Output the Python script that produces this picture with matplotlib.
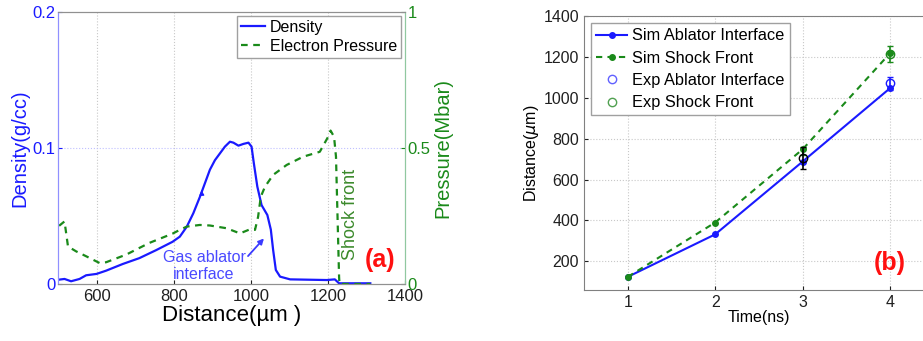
import matplotlib.pyplot as plt
import matplotlib as mpl
from matplotlib.lines import Line2D

mpl.rcParams['font.family'] = ['Liberation Sans', 'DejaVu Sans']

BLUE = '#1a1aff'
GREEN = '#1a8a1a'
RED = '#ff1010'
GRID = '#c8c8c8'

# panel (a): profiles along distance (um)
dens_x = [503, 517, 534, 556, 573, 600, 625, 668, 711, 754, 797, 816, 834, 851,
          868, 881, 894, 907, 920, 933, 946, 955, 968, 981, 994, 1002, 1008,
          1017, 1028, 1043, 1052, 1058, 1065, 1076, 1102, 1197, 1218, 1229, 1310]
dens_y = [0.0032, 0.0037, 0.0020, 0.0037, 0.0064, 0.0074, 0.0098, 0.0147, 0.019,
          0.0248, 0.031, 0.0348, 0.0421, 0.052, 0.064, 0.074, 0.084, 0.091,
          0.096, 0.101, 0.1046, 0.1039, 0.1017, 0.103, 0.1039, 0.101, 0.0887,
          0.0716, 0.058, 0.0507, 0.040, 0.025, 0.0103, 0.0054, 0.0034, 0.0029,
          0.0034, 0.0005, 0.0005]

pres_x = [503, 517, 526, 547, 573, 608, 625, 677, 737, 797, 816, 834, 868, 894,
          937, 972, 998, 1011, 1019, 1026, 1037, 1058, 1093, 1136, 1179, 1201,
          1207, 1216, 1221, 1229, 1230, 1310]
pres_y = [0.214, 0.230, 0.138, 0.120, 0.102, 0.077, 0.080, 0.108, 0.151, 0.185,
          0.199, 0.211, 0.217, 0.215, 0.205, 0.186, 0.201, 0.199, 0.247, 0.321,
          0.358, 0.401, 0.4375, 0.468, 0.486, 0.542, 0.564, 0.541, 0.468, 0.027,
          0.0, 0.0]

# panel (b): positions vs time
t_sim = [1, 2, 3, 4]
sim_ablator = [124, 332, 688, 1047]
sim_shock = [124, 390, 748, 1218]

t_exp_abl = [4]
exp_ablator = [1071]
exp_ablator_err = [33]
t_exp_shock = [4]
exp_shock = [1214]
exp_shock_err = [40]
t_exp_mid = [3]
exp_mid = [705]
exp_mid_err = [52]
exp_mid_shock = [738]
exp_mid_shock_err = [18]

fig = plt.figure(figsize=(9.23, 3.41), dpi=100)

# ---------- (a) ----------
ax1 = fig.add_axes([0.0628, 0.1672, 0.376, 0.7977])
ax2 = ax1.twinx()

l1, = ax1.plot(dens_x, dens_y, color=BLUE, lw=1.6, label='Density')
l2, = ax2.plot(pres_x, pres_y, color=GREEN, lw=1.6, ls=(0, (3, 2.5)),
               label='Electron Pressure')

ax1.set_xlim(500, 1400)
ax1.set_ylim(0, 0.2)
ax2.set_ylim(0, 1)
ax1.set_xticks([600, 800, 1000, 1200, 1400])
ax1.set_yticks([0, 0.1, 0.2])
ax1.set_yticklabels(['0', '0.1', '0.2'])
ax2.set_yticks([0, 0.5, 1])
ax2.set_yticklabels(['0', '0.5', '1'])
for x in [600, 800, 1000, 1200]:
    ax1.axvline(x, color=GRID, lw=0.8, ls=':', zorder=0)
ax1.axhline(0.1, color='#c0c0ff', lw=0.8, ls=':', zorder=0)

ax1.tick_params(axis='x', direction='in', labelsize=12, colors='#202020', length=3)
ax1.tick_params(axis='y', direction='in', labelsize=12, colors=BLUE,
                length=3, pad=2)
ax2.tick_params(axis='y', direction='in', labelsize=12, colors=GREEN,
                length=3, pad=2)
for a in (ax1, ax2):
    a.spines['left'].set_color('#9090ff')
    a.spines['right'].set_color('#90c8a0')
    a.spines['top'].set_color('#909090')
    a.spines['bottom'].set_color('#909090')

ax1.set_xlabel('Distance(µm )', fontsize=16, labelpad=1)
ax1.set_ylabel('Density(g/cc)', fontsize=14.5, color=BLUE, labelpad=2)
ax2.set_ylabel('Pressure(Mbar)', fontsize=14.5, color=GREEN, labelpad=2)

ax2.legend(handles=[l1, l2], loc='upper right', fontsize=11.5, fancybox=False,
           edgecolor='#a0a0a0', framealpha=1, borderaxespad=0.25,
           handlelength=1.5, handletextpad=0.3, borderpad=0.25,
           labelspacing=0.25)

ax1.text(879, 0.0135, 'Gas ablator\ninterface', color='#4a4aff', fontsize=11.5,
         ha='center', va='center', linespacing=1.15)
ax1.annotate('', xy=(1039, 0.035), xytext=(988, 0.019),
             arrowprops=dict(arrowstyle='-|>', color='#3a3aff', lw=1.3,
                             mutation_scale=8))
ax1.annotate('', xy=(872, 0.071), xytext=(873, 0.066),
             arrowprops=dict(arrowstyle='-|>', color=BLUE, lw=0.8,
                             mutation_scale=7))
ax2.text(1259, 0.255, 'Shock front', color='#3c8a2c', fontsize=13,
         rotation=90, ha='center', va='center')
ax2.text(1336, 0.09, '(a)', color=RED, fontsize=18, fontweight='bold',
         ha='center', va='center')

# ---------- (b) ----------
ax3 = fig.add_axes([0.6327, 0.1496, 0.379, 0.8035])
ax3.plot(t_sim, sim_ablator, color=BLUE, lw=1.5, marker='o', ms=4)
ax3.plot(t_sim, sim_shock, color=GREEN, lw=1.5, ls=(0, (3, 2.5)), marker='o',
         ms=4)
ax3.errorbar(t_exp_abl, exp_ablator, yerr=exp_ablator_err, fmt='o', mfc='none',
             mec=BLUE, ecolor=BLUE, ms=6, capsize=2, lw=1.2)
ax3.errorbar(t_exp_shock, exp_shock, yerr=exp_shock_err, fmt='o', mfc='none',
             mec=GREEN, ecolor=GREEN, ms=6, capsize=2, lw=1.2)
ax3.errorbar(t_exp_mid, exp_mid_shock, yerr=exp_mid_shock_err, fmt='none',
             ecolor=GREEN, capsize=2, lw=1.2)
ax3.errorbar(t_exp_mid, exp_mid, yerr=exp_mid_err, fmt='o', mfc='none',
             mec='black', ecolor='black', ms=6, capsize=2, lw=1.2)

ax3.set_xlim(0.5, 4.5)
ax3.set_ylim(60, 1400)
ax3.set_xticks([1, 2, 3, 4])
ax3.set_yticks([200, 400, 600, 800, 1000, 1200, 1400])
ax3.grid(True, color=GRID, lw=0.8, ls=':')
ax3.set_axisbelow(True)
ax3.tick_params(direction='in', labelsize=11.5, colors='#202020', length=3)
for s in ax3.spines.values():
    s.set_color('#808080')
ax3.set_xlabel('Time(ns)', fontsize=11.5, labelpad=0)
ax3.set_ylabel('Distance($\\mu$m)', fontsize=11.5, labelpad=2)

handles = [
    Line2D([], [], color=BLUE, lw=1.5, marker='o', ms=4),
    Line2D([], [], color=GREEN, lw=1.5, ls=(0, (3, 2.5)), marker='o', ms=4),
    Line2D([], [], ls='none', marker='o', mfc='none', mec='#6060ff', ms=6),
    Line2D([], [], ls='none', marker='o', mfc='none', mec='#50a050', ms=6),
]
labels = ['Sim Ablator Interface', 'Sim Shock Front', 'Exp Ablator Interface',
          'Exp Shock Front']
ax3.legend(handles, labels, loc='upper left', fontsize=11.8, fancybox=False,
           edgecolor='#a0a0a0', framealpha=1, borderaxespad=0.45,
           handlelength=1.9, handletextpad=0.3, borderpad=0.3,
           labelspacing=0.45)
ax3.text(4, 193, '(b)', color=RED, fontsize=18, fontweight='bold',
         ha='center', va='center')

fig.savefig('out.png', dpi=100)
